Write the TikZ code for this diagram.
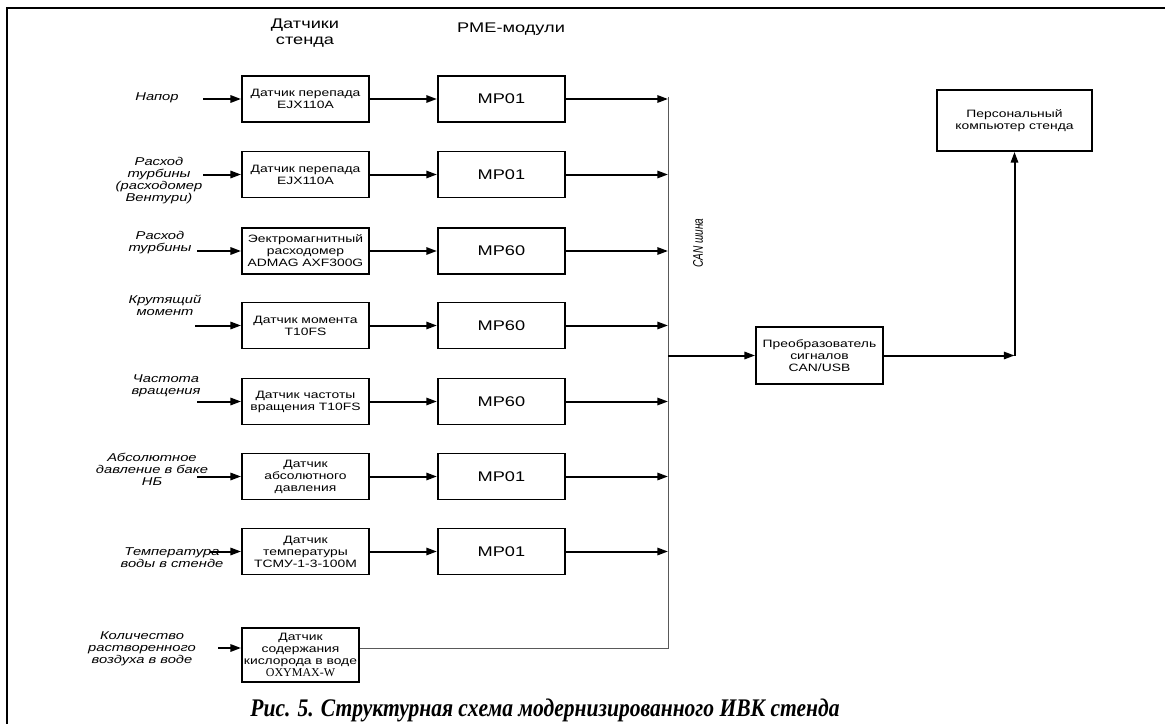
\documentclass[tikz,border=0pt]{standalone}
\usepackage{fontspec}
\setmainfont{Liberation Sans}[FakeStretch=1.3]
\newfontfamily\capfont{Liberation Serif}[FakeStretch=0.85]
\newfontfamily\serialfont{Liberation Serif}
\newfontfamily\busfont{Liberation Sans}[FakeStretch=0.72]
\usepackage{tikz}
\usetikzlibrary{arrows.meta, positioning}
\usepackage{xcolor}
\definecolor{BusGray}{gray}{0.35}
\tikzset{%
  sensor_block/.style={%
    rectangle,%
    draw=black,%
    line width=1.4pt,%
    minimum width=95.25pt,%
    minimum height=34.5pt,%
    inner sep=1pt,%
    font={\fontsize{8}{9}\selectfont},%
    align=center%
  },
  module_block/.style={%
    sensor_block,%
    font={\fontsize{10.5}{12}\selectfont},%
  },
  header/.style={%
    font={\fontsize{10.5}{12}\selectfont},%
    align=center,%
  },
  input_label/.style={%
    font={\fontsize{8.5}{9}\selectfont\itshape},%
    align=center,%
  },
  bus_label/.style={%
    font={\busfont\itshape\fontsize{10.5}{12}\selectfont},%
  },
  caption/.style={%
    font={\capfont\bfseries\itshape\fontsize{19}{22}\selectfont},%
  },
  signal_path/.style={%
    line width=1.5pt,%
    line join=round,%
  },
  bus_path/.style={%
    line width=0.75pt,%
    color=BusGray,%
  },
  arrow/.style={-{Triangle[length=8pt, width=5.5pt]}},
}

\begin{document}
\begin{tikzpicture}[x=0.75pt, y=-0.75pt]
    \useasboundingbox (0,0) rectangle (1165,724);
    \draw [line width=1.6pt] (7,724) -- (7,8) -- (1165,8);

    \node [header] (HeadSensors) at (305,33) {Датчики\\стенда};
    \node [header] (HeadModules) at (511,29) {PME-модули};

    % sensors
    \node [sensor_block] (Sensor1) at (305.5,99) {Датчик перепада\\EJX110A};
    \node [sensor_block] (Sensor2) at (305.5,174.5) {Датчик перепада\\EJX110A};
    \node [sensor_block] (Sensor3) at (305.5,251) {Эектромагнитный\\расходомер\\ADMAG AXF300G};
    \node [sensor_block] (Sensor4) at (305.5,325.5) {Датчик момента\\T10FS};
    \node [sensor_block] (Sensor5) at (305.5,401.5) {Датчик частоты\\вращения T10FS};
    \node [sensor_block] (Sensor6) at (305.5,476.5) {Датчик\\абсолютного\\давления};
    \node [sensor_block] (Sensor7) at (305.5,551.5) {Датчик\\температуры\\ТСМУ-1-3-100М};
    \node [sensor_block, minimum width=87.75pt, minimum height=40.5pt]
      (Sensor8) at (300.5,655)
      {Датчик\\содержания\\кислорода в воде\\{\serialfont\fontsize{9}{9}\selectfont OXYMAX-W}};

    % modules
    \node [module_block, right = 50.25pt of Sensor1] (Module1) {MP01};
    \node [module_block, right = 50.25pt of Sensor2] (Module2) {MP01};
    \node [module_block, right = 50.25pt of Sensor3] (Module3) {MP60};
    \node [module_block, right = 50.25pt of Sensor4] (Module4) {MP60};
    \node [module_block, right = 50.25pt of Sensor5] (Module5) {MP60};
    \node [module_block, right = 50.25pt of Sensor6] (Module6) {MP01};
    \node [module_block, right = 50.25pt of Sensor7] (Module7) {MP01};

    \node [sensor_block, minimum height=42.75pt]
      (Converter) at (819.5,355.5) {Преобразователь\\сигналов\\CAN/USB};
    \node [sensor_block, minimum width=116.25pt, minimum height=45.75pt]
      (Computer) at (1014.5,120.5) {Персональный\\компьютер стенда};

    % inputs
    \node [input_label] (Label1) at (157,98) {Напор};
    \node [input_label] (Label2) at (159,181) {Расход\\турбины\\(расходомер\\Вентури)};
    \node [input_label] (Label3) at (160,243) {Расход\\турбины};
    \node [input_label] (Label4) at (165,305) {Крутящий\\момент};
    \node [input_label] (Label5) at (166,386) {Частота\\вращения};
    \node [input_label] (Label6) at (152,469.5) {Абсолютное\\давление в баке\\НБ};
    \node [input_label] (Label7) at (172,557.5) {Температура\\воды в стенде};
    \node [input_label] (Label8) at (142,649) {Количество\\растворенного\\воздуха в воде};

    \coordinate (In1) at (203,99);
    \coordinate (In2) at (203,174.5);
    \coordinate (In3) at (197,251);
    \coordinate (In4) at (195,325.5);
    \coordinate (In5) at (197,401.5);
    \coordinate (In6) at (197,476.5);
    \coordinate (In7) at (210,551.5);
    \coordinate (In8) at (218,648);

    \draw [arrow, signal_path] (In1) -- (Sensor1.west);
    \draw [arrow, signal_path] (In2) -- (Sensor2.west);
    \draw [arrow, signal_path] (In3) -- (Sensor3.west);
    \draw [arrow, signal_path] (In4) -- (Sensor4.west);
    \draw [arrow, signal_path] (In5) -- (Sensor5.west);
    \draw [arrow, signal_path] (In6) -- (Sensor6.west);
    \draw [arrow, signal_path] (In7) -- (Sensor7.west);
    \draw [arrow, signal_path] (In8) -- (In8 -| Sensor8.west);

    \draw [arrow, signal_path] (Sensor1.east) -- (Module1.west);
    \draw [arrow, signal_path] (Sensor2.east) -- (Module2.west);
    \draw [arrow, signal_path] (Sensor3.east) -- (Module3.west);
    \draw [arrow, signal_path] (Sensor4.east) -- (Module4.west);
    \draw [arrow, signal_path] (Sensor5.east) -- (Module5.west);
    \draw [arrow, signal_path] (Sensor6.east) -- (Module6.west);
    \draw [arrow, signal_path] (Sensor7.east) -- (Module7.west);

    % CAN bus
    \coordinate (BusTop) at (668,97);
    \coordinate (BusEnd) at (668,648);
    \draw [bus_path] (BusTop) -- (BusEnd) -- (BusEnd -| Sensor8.east);
    \node [bus_label, rotate=90] (BusName) at (698,243) {CAN шина};

    \draw [arrow, signal_path] (Module1.east) -- (Module1.east -| BusTop);
    \draw [arrow, signal_path] (Module2.east) -- (Module2.east -| BusTop);
    \draw [arrow, signal_path] (Module3.east) -- (Module3.east -| BusTop);
    \draw [arrow, signal_path] (Module4.east) -- (Module4.east -| BusTop);
    \draw [arrow, signal_path] (Module5.east) -- (Module5.east -| BusTop);
    \draw [arrow, signal_path] (Module6.east) -- (Module6.east -| BusTop);
    \draw [arrow, signal_path] (Module7.east) -- (Module7.east -| BusTop);

    \draw [arrow, signal_path] (Converter.west -| BusTop) -- (Converter.west);
    \coordinate (Corner) at (Converter.east -| Computer.south);
    \draw [arrow, signal_path] (Converter.east) -- (Corner);
    \draw [arrow, signal_path] (Corner) -- (Computer.south);

    \node [caption] (Caption) at (545,710)
      {Рис. 5. Структурная схема модернизированного ИВК стенда};
  \end{tikzpicture}
\end{document}
